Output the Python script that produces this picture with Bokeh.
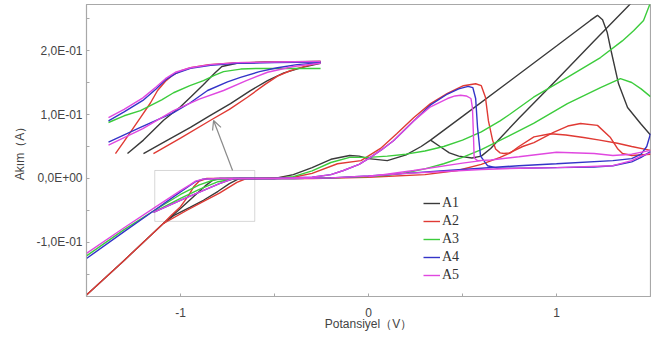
from bokeh.plotting import figure
from bokeh.models import Range1d, FixedTicker, BoxAnnotation, Arrow, OpenHead, Legend
from bokeh.embed import file_html
from bokeh.resources import INLINE

# ---------------- data (V, A) ----------------
SERIES = ["A1", "A2", "A3", "A4", "A5"]
COLORS = ["#3a3a3a", "#e03a34", "#3ccc3c", "#3434c8", "#e048e0"]

A1_X = [
    [-1.5, -1.3, -1.09, -1.0, -0.93, -0.87, -0.83, -0.79, -0.7, -0.5, -0.4, -0.3, -0.2, -0.1, -0.05, 0.0, 0.1, 0.2, 0.28, 0.33, 0.5, 0.75, 1.0, 1.18, 1.218, 1.245, 1.27, 1.29, 1.33, 1.378, 1.447, 1.5],
    [0.33, 0.38, 0.43, 0.48, 0.55, 0.6, 0.65, 0.70, 0.8, 1.0, 1.2, 1.4, 1.5],
    [-1.09, -1.037, -0.95, -0.878, -0.8, -0.74, -0.686, -0.6],
]
A1_Y = [
    [-0.182, -0.128, -0.07, -0.047, -0.028, -0.012, -0.003, 0.0, 0.0, 0.0, 0.006, 0.017, 0.03, 0.036, 0.035, 0.031, 0.028, 0.037, 0.05, 0.06, 0.097, 0.152, 0.207, 0.247, 0.255, 0.248, 0.228, 0.2, 0.148, 0.111, 0.086, 0.068],
    [0.06, 0.05, 0.04, 0.035, 0.032, 0.035, 0.047, 0.063, 0.094, 0.154, 0.215, 0.275, 0.305],
    [-0.07, -0.058, -0.045, -0.034, -0.02, -0.008, 0.0, 0.0],
]

A2_X = [
    [-1.5, -1.3, -1.09, -1.05, -1.0, -0.96, -0.93, -0.9, -0.86, -0.8, -0.6, -0.4, -0.3, -0.165, -0.04, 0.064, 0.15, 0.24, 0.33, 0.42, 0.505, 0.57, 0.6, 0.622, 0.638, 0.66, 0.676, 0.7, 0.72, 0.75, 0.82, 0.88, 0.984, 1.06, 1.128, 1.218, 1.287, 1.324, 1.351, 1.4, 1.5],
    [1.5, 1.4, 1.324, 1.23, 1.144, 1.05, 0.968, 0.88, 0.8, 0.755, 0.7, 0.6, 0.473, 0.3, 0.0, -0.3, -0.6],
    [-1.09, -0.968, -0.88, -0.793, -0.70, -0.65],
]
A2_Y = [
    [-0.182, -0.128, -0.07, -0.058, -0.044, -0.028, -0.013, -0.004, 0.0, 0.0, 0.0, 0.002, 0.008, 0.023, 0.028, 0.047, 0.07, 0.095, 0.117, 0.133, 0.145, 0.148, 0.145, 0.127, 0.09, 0.06, 0.046, 0.04, 0.039, 0.04, 0.05, 0.056, 0.072, 0.082, 0.086, 0.083, 0.064, 0.047, 0.039, 0.036, 0.038],
    [0.044, 0.05, 0.055, 0.06, 0.064, 0.068, 0.07, 0.065, 0.05, 0.04, 0.033, 0.022, 0.0125, 0.006, 0.002, 0.0, 0.0],
    [-0.07, -0.05, -0.036, -0.023, -0.006, 0.0],
]

A3_X = [
    [-1.5, -1.3, -1.14, -1.0, -0.9, -0.82, -0.75, -0.5, -0.4, -0.3, -0.2, -0.1, 0.0, 0.1, 0.2, 0.3, 0.4, 0.5, 0.6, 0.7, 0.75, 0.878, 1.058, 1.234, 1.35, 1.41, 1.463, 1.5],
    [1.5, 1.45, 1.4, 1.34, 1.234, 1.058, 0.878, 0.75, 0.6, 0.5, 0.4, 0.3, 0.2, 0.1, 0.0, -0.2, -0.4, -0.7, -0.8, -0.9, -1.0, -1.14],
]
A3_Y = [
    [-0.121, -0.08, -0.05, -0.025, -0.01, -0.002, 0.0, 0.0, 0.003, 0.012, 0.025, 0.033, 0.033, 0.035, 0.038, 0.043, 0.05, 0.06, 0.073, 0.09, 0.1, 0.127, 0.158, 0.189, 0.215, 0.231, 0.247, 0.275],
    [0.128, 0.14, 0.15, 0.156, 0.142, 0.117, 0.086, 0.067, 0.045, 0.033, 0.023, 0.015, 0.009, 0.005, 0.003, 0.001, 0.0, 0.0, -0.005, -0.017, -0.031, -0.052],
]

A4_X = [
    [-1.5, -1.3, -1.14, -1.0, -0.95, -0.92, -0.88, -0.8, -0.5, -0.3, -0.2, -0.133, -0.05, 0.01, 0.07, 0.133, 0.24, 0.33, 0.42, 0.48, 0.53, 0.555, 0.57, 0.58, 0.596, 0.633, 0.686, 0.8, 1.0, 1.2, 1.3, 1.4, 1.45, 1.5],
    [1.5, 1.48, 1.45, 1.4, 1.3, 1.0, 0.8, 0.6, 0.4, 0.2, 0.0, -0.2, -0.4, -0.6, -0.718, -0.793, -0.968, -1.144],
]
A4_Y = [
    [-0.125, -0.083, -0.05, -0.021, -0.011, -0.005, -0.001, 0.0, 0.0, 0.002, 0.006, 0.0125, 0.022, 0.033, 0.045, 0.059, 0.09, 0.115, 0.132, 0.14, 0.144, 0.142, 0.125, 0.08, 0.035, 0.02, 0.016, 0.016, 0.017, 0.018, 0.02, 0.026, 0.033, 0.042],
    [0.07, 0.05, 0.038, 0.031, 0.028, 0.023, 0.02, 0.016, 0.012, 0.008, 0.004, 0.001, 0.0, 0.0, 0.0, -0.008, -0.03, -0.053],
]

A5_X = [
    [-1.5, -1.3, -1.14, -1.0, -0.95, -0.92, -0.88, -0.8, -0.5, -0.3, -0.2, -0.133, -0.05, 0.01, 0.07, 0.133, 0.24, 0.33, 0.42, 0.46, 0.49, 0.52, 0.545, 0.553, 0.558, 0.562, 0.58, 0.65, 0.8, 1.0, 1.2, 1.3, 1.4, 1.5],
    [1.5, 1.45, 1.4, 1.3, 1.0, 0.8, 0.6, 0.4, 0.2, 0.0, -0.2, -0.4, -0.6, -0.718, -0.793, -0.968, -1.144],
    [0.0, 0.24, 0.5, 0.6],
]
A5_Y = [
    [-0.117, -0.077, -0.046, -0.019, -0.010, -0.004, -0.001, 0.0, 0.0, 0.002, 0.006, 0.0125, 0.022, 0.033, 0.045, 0.059, 0.09, 0.112, 0.125, 0.129, 0.13, 0.129, 0.125, 0.11, 0.07, 0.032, 0.028, 0.029, 0.034, 0.041, 0.039, 0.036, 0.038, 0.044],
    [0.04, 0.035, 0.028, 0.02, 0.017, 0.016, 0.014, 0.011, 0.008, 0.004, 0.001, 0.0, 0.0, 0.0, -0.008, -0.03, -0.053],
    [0.003, 0.0125, 0.024, 0.028],
]

# magnified view (as drawn in the upper-left of the chart)
IN_A1_X = [[-1.282, -1.197, -1.09, -1.0, -0.947, -0.88, -0.82, -0.78, -0.7, -0.55, -0.255],
           [-1.197, -1.1, -0.947, -0.85, -0.734, -0.63, -0.537, -0.45, -0.346, -0.255]]
IN_A1_Y = [[0.039, 0.06, 0.091, 0.112, 0.127, 0.146, 0.164, 0.175, 0.18, 0.182, 0.183],
           [0.039, 0.055, 0.08, 0.097, 0.117, 0.137, 0.153, 0.165, 0.174, 0.18]]
IN_A2_X = [[-1.346, -1.3, -1.213, -1.16, -1.122, -1.08, -1.043, -1.0, -0.947, -0.85, -0.7, -0.255],
           [-1.144, -1.0, -0.84, -0.74, -0.644, -0.55, -0.484, -0.42, -0.378, -0.3, -0.255]]
IN_A2_Y = [[0.039, 0.058, 0.095, 0.118, 0.1375, 0.152, 0.161, 0.168, 0.173, 0.178, 0.181, 0.183],
           [0.039, 0.063, 0.091, 0.108, 0.127, 0.147, 0.16, 0.168, 0.172, 0.178, 0.181]]
IN_A3_X = [[-1.383, -1.3, -1.213, -1.1, -1.037, -0.95, -0.878, -0.82, -0.771, -0.68, -0.59, -0.4, -0.255]]
IN_A3_Y = [[0.0875, 0.098, 0.106, 0.123, 0.134, 0.145, 0.153, 0.161, 0.167, 0.171, 0.172, 0.172, 0.172]]
IN_A4_X = [[-1.383, -1.3, -1.2, -1.13, -1.08, -1.027, -0.947, -0.84, -0.7, -0.5, -0.255],
           [-1.383, -1.213, -1.037, -0.95, -0.856, -0.75, -0.681, -0.58, -0.484, -0.38, -0.255]]
IN_A4_Y = [[0.09, 0.104, 0.122, 0.14, 0.154, 0.164, 0.172, 0.177, 0.18, 0.181, 0.182],
           [0.057, 0.08, 0.103, 0.118, 0.1375, 0.151, 0.158, 0.167, 0.173, 0.178, 0.181]]
IN_A5_X = [[-1.383, -1.3, -1.2, -1.13, -1.08, -1.027, -0.947, -0.84, -0.7, -0.5, -0.255],
           [-1.383, -1.2, -1.037, -0.9, -0.771, -0.65, -0.537, -0.4, -0.255]]
IN_A5_Y = [[0.095, 0.108, 0.126, 0.143, 0.156, 0.166, 0.173, 0.178, 0.181, 0.182, 0.183],
           [0.052, 0.078, 0.106, 0.124, 0.1375, 0.153, 0.166, 0.175, 0.18]]

# zoom box and pointer (data units)
BOX = dict(left=-1.137, right=-0.605, bottom=-0.067, top=0.0125)
POINTER = dict(x_start=-0.723, y_start=0.0125, x_end=-0.824, y_end=0.0906)

X_TICKS = [-1, 0, 1]
X_LABELS = ["-1", "0", "1"]
Y_TICKS = [-0.1, 0.0, 0.1, 0.2]
Y_LABELS = ["-1,0E-01", "0,0E+00", "1,0E-01", "2,0E-01"]

MAIN_X = [A1_X, A2_X, A3_X, A4_X, A5_X]
MAIN_Y = [A1_Y, A2_Y, A3_Y, A4_Y, A5_Y]
INS_X = [IN_A1_X, IN_A2_X, IN_A3_X, IN_A4_X, IN_A5_X]
INS_Y = [IN_A1_Y, IN_A2_Y, IN_A3_Y, IN_A4_Y, IN_A5_Y]

# ---------------- figure ----------------
p = figure(width=651, height=338, x_range=Range1d(-1.5, 1.5), y_range=Range1d(-0.1844, 0.2719),
           output_backend="svg", toolbar_location=None,
           min_border_left=86, min_border_right=1, min_border_top=4, min_border_bottom=42)
p.grid.visible = False
p.outline_line_color = "#a8a8a8"
p.outline_line_width = 1.2

FONT = "Liberation Sans"
for ax in (p.xaxis[0], p.yaxis[0]):
    ax.axis_line_color = "#a8a8a8"
    ax.major_tick_line_color = "#a8a8a8"
    ax.minor_tick_line_color = "#a8a8a8"
    ax.major_tick_in = 3
    ax.major_tick_out = 0
    ax.minor_tick_in = 3
    ax.minor_tick_out = 0
    ax.major_label_text_font = FONT
    ax.major_label_text_font_size = "12px"
    ax.major_label_text_color = "#444444"
    ax.axis_label_text_font = FONT
    ax.axis_label_text_font_size = "12px"
    ax.axis_label_text_font_style = "normal"
    ax.axis_label_text_color = "#444444"

p.xaxis.ticker = FixedTicker(ticks=X_TICKS, minor_ticks=[-0.5, 0.5])
p.yaxis.ticker = FixedTicker(ticks=Y_TICKS, minor_ticks=[-0.15, -0.05, 0.05, 0.15, 0.25])
p.xaxis.major_label_overrides = {t: s for t, s in zip(X_TICKS, X_LABELS)}
p.yaxis.major_label_overrides = {t: s for t, s in zip(Y_TICKS, Y_LABELS)}
p.xaxis.axis_label = "Potansiyel（V）"
p.yaxis.axis_label = "Akım（A）"
p.xaxis.major_label_standoff = 11
p.xaxis.axis_label_standoff = -3
p.yaxis.major_label_standoff = 4
p.yaxis.axis_label_standoff = 6

items = []
for name, col, xs, ys, ixs, iys in zip(SERIES, COLORS, MAIN_X, MAIN_Y, INS_X, INS_Y):
    r = p.multi_line(xs=xs, ys=ys, line_color=col, line_width=1.4)
    p.multi_line(xs=ixs, ys=iys, line_color=col, line_width=1.4)
    items.append((name, [r]))

p.add_layout(BoxAnnotation(fill_alpha=0, line_color="#7a7a7a", line_width=1, **BOX))
p.add_layout(Arrow(end=OpenHead(size=9, line_color="#8a8a8a", line_width=1.2),
                   line_color="#8a8a8a", line_width=1.2, **POINTER))

legend = Legend(items=items, location=(337, 12), orientation="vertical",
                label_text_font="Liberation Serif", label_text_font_size="14px",
                label_text_color="#333333", glyph_width=17, glyph_height=18,
                label_height=18, label_standoff=2, spacing=0, padding=0, margin=0,
                border_line_color=None, background_fill_alpha=0)
p.add_layout(legend, "center")

open("out.html", "w").write(file_html(p, INLINE))
